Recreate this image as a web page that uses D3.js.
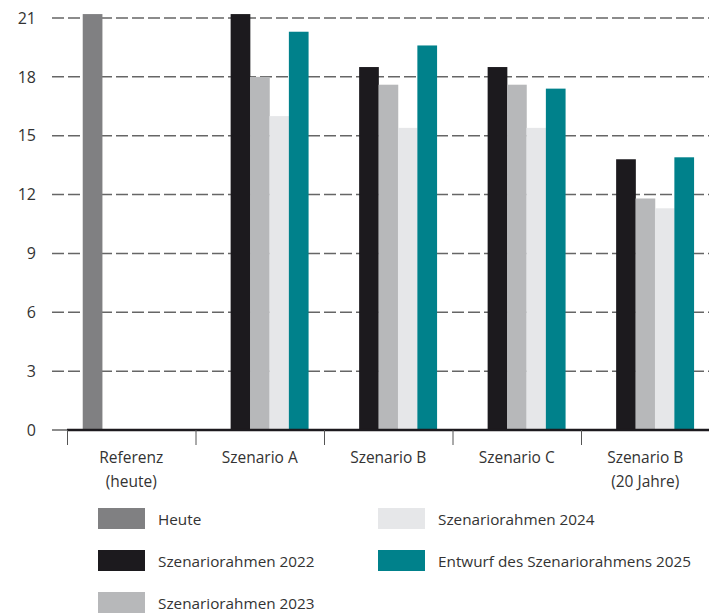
<!DOCTYPE html>
<html>
<head>
  <meta charset='utf-8'>
  <style>
  body { margin: 0; background: #fff; }
  svg { display: block; font-family: 'Open Sans', sans-serif; }
  .grid line { stroke: #666; stroke-width: 1.5px; stroke-dasharray: 12,4; }
  .tick-label { font-size: 16px; fill: #333; }
  .cat-label { font-size: 15.5px; fill: #333; }
  .legend text { font-size: 15.3px; fill: #333; }
  </style>
</head>
<body>
<script src='https://d3js.org/d3.v7.min.js'></script>
<script>

var categories = ['Referenz\n(heute)', 'Szenario A', 'Szenario B', 'Szenario C', 'Szenario B\n(20 Jahre)'];
var seriesNames = ['Heute', 'Szenariorahmen 2022', 'Szenariorahmen 2023', 'Szenariorahmen 2024', 'Entwurf des Szenariorahmens 2025'];
var seriesColors = ['#808082', '#1c1a1e', '#b7b8ba', '#e6e7e9', '#00818b'];

var heute = [21.2, null, null, null, null];
var sr2022 = [null, 21.2, 18.5, 18.5, 13.8];
var sr2023 = [null, 18.0, 17.6, 17.6, 11.8];
var sr2024 = [null, 16.0, 15.4, 15.4, 11.3];
var sr2025 = [null, 20.3, 19.6, 17.4, 13.9];

var yTicks = [0, 3, 6, 9, 12, 15, 18, 21];

var seriesValues = [heute, sr2022, sr2023, sr2024, sr2025];

var SVG_WIDTH = 709;
var SVG_HEIGHT = 613;

var svg = d3.select('body').append('svg')
    .attr('width', SVG_WIDTH)
    .attr('height', SVG_HEIGHT);

var x0 = d3.scaleBand()
    .domain(categories)
    .range([67, 709.5])
    .paddingInner(0)
    .paddingOuter(0);

var x1 = d3.scaleBand()
    .domain(seriesNames)
    .range([0, x0.bandwidth()])
    .paddingInner(0)
    .paddingOuter(0.81);

var y = d3.scaleLinear()
    .domain([0, 21])
    .range([430, 18]);

// grid lines
var grid = svg.append('g').attr('class', 'grid');
grid.selectAll('line')
    .data(yTicks.filter(function(d) { return d > 0; }))
  .enter().append('line')
    .attr('x1', 52)
    .attr('x2', SVG_WIDTH)
    .attr('y1', function(d) { return y(d); })
    .attr('y2', function(d) { return y(d); });

// y tick labels
svg.append('g').selectAll('text')
    .data(yTicks)
  .enter().append('text')
    .attr('class', 'tick-label')
    .attr('x', 36)
    .attr('y', function(d) { return y(d); })
    .attr('dy', '0.36em')
    .attr('text-anchor', 'end')
    .text(function(d) { return d; });

// bars
var groups = svg.append('g').selectAll('g')
    .data(categories)
  .enter().append('g')
    .attr('transform', function(d) { return 'translate(' + x0(d) + ',0)'; });

groups.selectAll('rect')
    .data(function(d, i) {
      return seriesNames.map(function(s, j) {
        return {series: s, value: seriesValues[j][i], color: seriesColors[j]};
      }).filter(function(e) { return e.value != null; });
    })
  .enter().append('rect')
    .attr('x', function(d) { return x1(d.series); })
    .attr('width', x1.bandwidth() + 0.3)
    .attr('y', function(d) { return y(d.value); })
    .attr('height', function(d) { return y(0) - y(d.value); })
    .attr('fill', function(d) { return d.color; });

// zero line
svg.append('line')
    .attr('x1', 52).attr('x2', 67)
    .attr('y1', y(0)).attr('y2', y(0))
    .attr('stroke', '#666').attr('stroke-width', 1.5);

svg.append('line')
    .attr('x1', 67).attr('x2', SVG_WIDTH)
    .attr('y1', y(0)).attr('y2', y(0))
    .attr('stroke', '#1c1a1e').attr('stroke-width', 2.5);

// category ticks
svg.append('g').selectAll('line')
    .data(categories)
  .enter().append('line')
    .attr('x1', function(d) { return x0(d) + 0.5; })
    .attr('x2', function(d) { return x0(d) + 0.5; })
    .attr('y1', y(0))
    .attr('y2', y(0) + 15)
    .attr('stroke', '#555')
    .attr('stroke-width', 1);

// category labels
var catLabels = svg.append('g').selectAll('text')
    .data(categories)
  .enter().append('text')
    .attr('class', 'cat-label')
    .attr('text-anchor', 'middle')
    .attr('x', function(d) { return x0(d) + x0.bandwidth() / 2; });

catLabels.selectAll('tspan')
    .data(function(d) { return d.split('\n'); })
  .enter().append('tspan')
    .attr('x', function() { return d3.select(this.parentNode).attr('x'); })
    .attr('y', function(d, i) { return 463 + i * 24; })
    .text(function(d) { return d; });

// legend
var legendPos = [[98, 508], [98, 550], [98, 592], [378, 508], [378, 550]];

var legend = svg.append('g').attr('class', 'legend').selectAll('g')
    .data(seriesNames)
  .enter().append('g')
    .attr('transform', function(d, i) { return 'translate(' + legendPos[i][0] + ',' + legendPos[i][1] + ')'; });

legend.append('rect')
    .attr('width', 47)
    .attr('height', 21)
    .attr('fill', function(d, i) { return seriesColors[i]; });

legend.append('text')
    .attr('x', 60)
    .attr('y', 11)
    .attr('dy', '0.36em')
    .text(function(d) { return d; });

</script>
</body>
</html>
